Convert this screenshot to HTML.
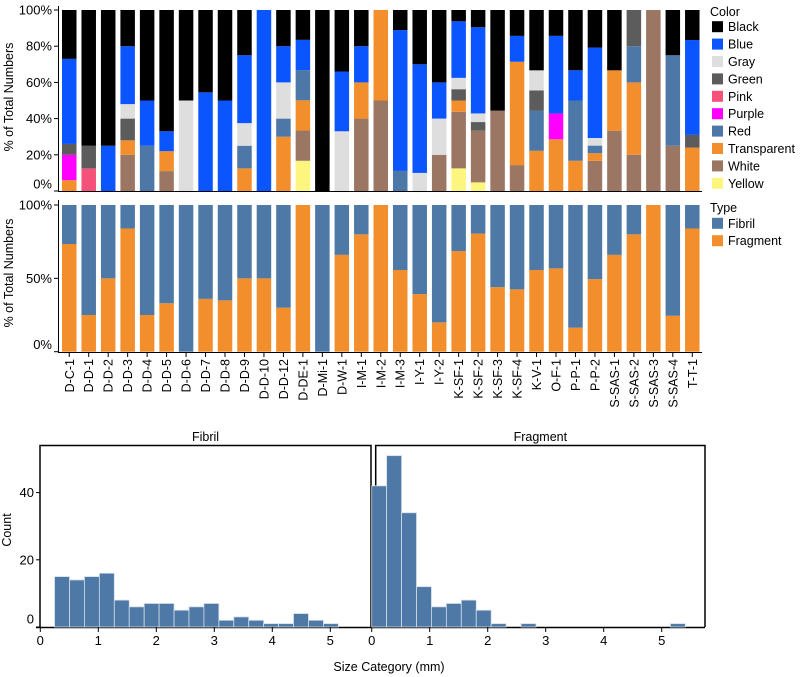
<!DOCTYPE html>
<html><head><meta charset="utf-8"><style>
body{margin:0;background:#fff}
svg{display:block;font-family:"Liberation Sans",Arial,sans-serif}
</style></head><body>
<svg id="chart" width="800" height="677" viewBox="0 0 800 677" xmlns="http://www.w3.org/2000/svg">
<g id="topChart"></g>
<g id="midChart"></g>
<g id="histChart"></g>
</svg>
<script>
const categories=["D-C-1","D-D-1","D-D-2","D-D-3","D-D-4","D-D-5","D-D-6","D-D-7","D-D-8","D-D-9","D-D-10","D-D-12","D-DE-1","D-Mi-1","D-W-1","I-M-1","I-M-2","I-M-3","I-Y-1","I-Y-2","K-SF-1","K-SF-2","K-SF-3","K-SF-4","K-V-1","O-F-1","P-P-1","P-P-2","S-SAS-1","S-SAS-2","S-SAS-3","S-SAS-4","T-T-1"];
const colorNames=["Yellow","White","Transparent","Red","Purple","Pink","Green","Gray","Blue","Black"];
const yellowVals=[0,0,0,0,0,0,0,0,0,0,0,0,16.7,0,0,0,0,0,0,0,12.5,4.76,0,0,0,0,0,0,0,0,0,0,0];
const whiteVals=[0,0,0,20,0,11,0,0,0,0,0,0,16.7,0,0,40,50,0,0,20,31.25,28.57,44.4,14.3,0,0,0,16.7,33.3,20,100,25,0];
const transparentVals=[6,0,0,8,0,11,0,0,0,12.5,0,30,16.7,0,0,20,50,0,0,0,6.25,0,0,57.1,22.2,28.6,16.7,4.2,33.3,40,0,0,24];
const redVals=[0,0,0,0,25,0,0,0,0,12.5,0,10,16.7,0,0,0,0,11.1,0,0,0,0,0,0,22.2,0,33.3,4.2,0,20,0,50,0];
const purpleVals=[14,0,0,0,0,0,0,0,0,0,0,0,0,0,0,0,0,0,0,0,0,0,0,0,0,14.3,0,0,0,0,0,0,0];
const pinkVals=[0,12.5,0,0,0,0,0,0,0,0,0,0,0,0,0,0,0,0,0,0,0,0,0,0,0,0,0,0,0,0,0,0,0];
const greenVals=[6,12.5,0,12,0,0,0,0,0,0,0,0,0,0,0,0,0,0,0,0,6.25,4.76,0,0,11.1,0,0,0,0,20,0,0,7];
const grayVals=[0,0,0,8,0,0,50,0,0,12.5,0,20,0,0,33,0,0,0,10,20,6.25,4.76,0,0,11.1,0,0,4.2,0,0,0,0,0];
const blueVals=[47,0,25,32,25,11,0,54.5,50,37.5,100,20,16.7,0,33,20,0,77.8,60,20,31.25,47.62,0,14.3,0,42.9,16.7,50,0,0,0,0,52.4];
const blackVals=[27,75,75,20,50,67,50,45.5,50,25,0,20,16.5,100,34,20,0,11.1,30,40,6.25,9.52,55.6,14.3,33.3,14.3,33.3,20.8,33.3,0,0,25,16.6];
const fragmentPct=[73.4,25,50,84,25,33,0,36,35,50,50,30,100,0,66,80,100,55.7,39.3,20,68.6,80.5,44,42.5,55.7,56.8,16.4,49.5,66,80,100,24.5,84];
const pctTicks=["0%","20%","40%","60%","80%","100%"];
const pctTicks2=["0%","50%","100%"];
const fibrilCounts=[15,14,15,16,8,6,7,7,5,6,7,2,3,2,1,1,4,2,1];
const fibrilFirstBin=0.246;
const fragmentCounts=[42,51,34,12,6,7,8,5,1,0,1,0,0,0,0,0,0,0,0,0,1];
const fragmentFirstBin=0;
const binWidth=0.2575;
const sizeTicks=[0,1,2,3,4,5];
const countTicks=[0,20,40];

const palette={Yellow:"#fcf67e",White:"#9b7662",Transparent:"#f28e2b",Red:"#4c77a6",Purple:"#ff00ff",Pink:"#f4517b",Green:"#5c5c5c",Gray:"#dedede",Blue:"#0b55ff",Black:"#000000"};
const series=[yellowVals,whiteVals,transparentVals,redVals,purpleVals,pinkVals,greenVals,grayVals,blueVals,blackVals];
const NS="http://www.w3.org/2000/svg";
function mk(parent,tag,attrs,text){const e=document.createElementNS(NS,tag);for(const k in attrs)e.setAttribute(k,attrs[k]);if(text!==undefined)e.textContent=text;parent.appendChild(e);return e;}
const pitch=19.47,bx0=62,bw=14.5;
const xBand=i=>bx0+i*pitch;
// TOP
const gTop=document.getElementById('topChart');
const tTop=10,tBot=191;
const yTop=p=>tBot-(tBot-tTop)*p/100;
categories.forEach((c,i)=>{
  let tot=0;series.forEach(s=>tot+=s[i]);
  let acc=0;
  series.forEach((s,k)=>{
    if(s[i]<=0)return;
    const v=s[i]/tot*100;
    const r=mk(gTop,'rect',{x:xBand(i),y:yTop(acc+v),width:bw,height:yTop(acc)-yTop(acc+v),fill:palette[colorNames[k]]});
    
    
    acc+=v;
  });
});
mk(gTop,'line',{x1:58.5,y1:6,x2:58.5,y2:191.5,stroke:'#000'});
mk(gTop,'line',{x1:58,y1:191.5,x2:702,y2:191.5,stroke:'#000'});
pctTicks.forEach((t,i)=>{const v=i*20;const y=yTop(v);
  mk(gTop,'line',{x1:54,y1:y,x2:58.5,y2:y,stroke:'#000'});
  const tx=mk(gTop,'text',{x:52,y:(v===0?y-7:y)+4.5,'text-anchor':'end','font-size':13},t);
  });
let yt=mk(gTop,'text',{transform:'translate(13,97) rotate(-90)','text-anchor':'middle','font-size':12.5},'% of Total Numbers');

let lt=mk(gTop,'text',{x:710,y:16,'font-size':12.5},'Color');

colorNames.slice().reverse().forEach((n,i)=>{const cy=26.7+i*17.4;
  const g=mk(gTop,'g',{});
  mk(g,'rect',{x:712,y:cy-5.5,width:11,height:11,fill:palette[n]});
  mk(g,'text',{x:728,y:cy+4.5,'font-size':12.5},n);});
// MIDDLE
const gMid=document.getElementById('midChart');
const mTop=205,mBot=351.7;
const yMid=p=>mBot-(mBot-mTop)*p/100;
categories.forEach((c,i)=>{
  const f=fragmentPct[i];
  const a=mk(gMid,'rect',{x:xBand(i),y:yMid(f),width:bw,height:yMid(0)-yMid(f),fill:'#f28e2b'});
  
  const b=mk(gMid,'rect',{x:xBand(i),y:yMid(100),width:bw,height:yMid(f)-yMid(100),fill:'#4e79a7'});
  
  const cx=xBand(i)+bw/2;
  mk(gMid,'line',{x1:cx,y1:352,x2:cx,y2:357,stroke:'#000'});
  const l=mk(gMid,'text',{transform:`translate(${cx+4.5},359) rotate(-90)`,'text-anchor':'end','font-size':12.5},c);
  
});
mk(gMid,'line',{x1:58.5,y1:200,x2:58.5,y2:352.5,stroke:'#000'});
mk(gMid,'line',{x1:58,y1:352.5,x2:702,y2:352.5,stroke:'#000'});
pctTicks2.forEach((t,i)=>{const v=i*50;const y=yMid(v);
  mk(gMid,'line',{x1:54,y1:y,x2:58.5,y2:y,stroke:'#000'});
  const tx=mk(gMid,'text',{x:52,y:(v===0?y-7:y)+4.5,'text-anchor':'end','font-size':13},t);
  });
yt=mk(gMid,'text',{transform:'translate(13,273) rotate(-90)','text-anchor':'middle','font-size':12.5},'% of Total Numbers');

lt=mk(gMid,'text',{x:710,y:212,'font-size':12.5},'Type');

[["Fibril","#4e79a7"],["Fragment","#f28e2b"]].forEach((p,i)=>{const cy=223.3+i*17.4;
  const g=mk(gMid,'g',{});
  mk(g,'rect',{x:712,y:cy-5.5,width:11,height:11,fill:p[1]});
  mk(g,'text',{x:728,y:cy+4.5,'font-size':12.5},p[0]);});
// HISTOGRAM
const gHist=document.getElementById('histChart');
const hBase=627,pxPerCount=3.36,unit=58;
const yH=c=>hBase-c*pxPerCount;
function panel(name,x0,fl,fr,counts,first,title){
  const fg=mk(gHist,'g',{});
  const xs=v=>x0+v*unit;
  mk(fg,'path',{d:`M${fl},${hBase} V445.5 H${fr} V${hBase}`,fill:'none',stroke:'#000','stroke-width':1.5});
  mk(fg,'line',{x1:name==='fibril'?36:fl-4,y1:hBase+0.5,x2:fr,y2:hBase+0.5,stroke:'#000','stroke-width':1.5});
  counts.forEach((c,i)=>{if(c<=0)return;
    const r=mk(fg,'rect',{x:xs(first+i*binWidth),y:yH(c),width:binWidth*unit,height:yH(0)-yH(c),fill:'#4e79a7',stroke:'#d4dde8','stroke-width':0.8});
    });
  sizeTicks.forEach(t=>{const x=xs(t);
    mk(fg,'line',{x1:x,y1:hBase,x2:x,y2:hBase+5,stroke:'#000'});
    const tx=mk(fg,'text',{x:x,y:645,'text-anchor':'middle','font-size':13},String(t));
    });
  const tt=mk(fg,'text',{x:(fl+fr)/2,y:441,'text-anchor':'middle','font-size':12.5},title);
  
}
panel('fibril',40.3,40,371,fibrilCounts,fibrilFirstBin,'Fibril');
panel('fragment',371.7,375.7,705,fragmentCounts,fragmentFirstBin,'Fragment');
countTicks.forEach(c=>{const y=yH(c);
  mk(gHist,'line',{x1:36,y1:y,x2:40,y2:y,stroke:'#000'});
  const tx=mk(gHist,'text',{x:34,y:(c===0?y-8:y)+4.5,'text-anchor':'end','font-size':13},String(c));
  });
yt=mk(gHist,'text',{transform:'translate(11,530) rotate(-90)','text-anchor':'middle','font-size':12.5},'Count');

const xt=mk(gHist,'text',{x:389,y:671,'text-anchor':'middle','font-size':12.5},'Size Category (mm)');

</script>
</body></html>
